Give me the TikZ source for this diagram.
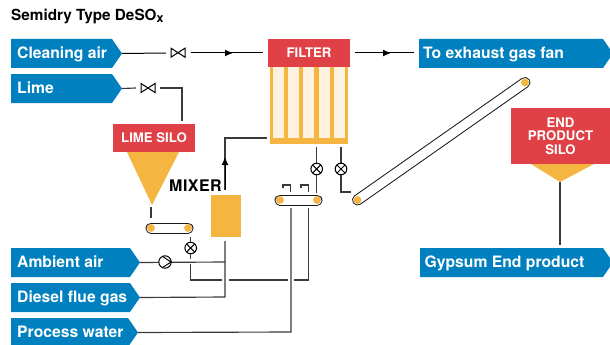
\documentclass[tikz,border=0pt]{standalone}
\usepackage{fontspec}
\setmainfont{TeX Gyre Heros}
\usetikzlibrary{arrows.meta}
\definecolor{tagblue}{HTML}{0080BE}
\definecolor{silored}{HTML}{DF4147}
\definecolor{amber}{HTML}{F4B541}
\definecolor{cream}{HTML}{FEF1DF}
\definecolor{pipe}{HTML}{3A3A3A}
\tikzset{
 x=1pt,y=-1pt,
 tagtext/.style={font=\bfseries\fontsize{15.7}{18}\selectfont,text=white,anchor=base west,inner sep=0pt},
 redbox/.style={fill=silored,text=white,font=\bfseries\fontsize{13.2}{13.5}\selectfont,align=center,inner sep=0pt,draw=none},
 pipeline/.style={draw=pipe,line width=1.15pt},
 thinline/.style={draw=black,line width=1pt},
 flowtip/.style={-{Latex[length=8pt,width=7pt]},draw=black,line width=1pt},
}
\newcommand{\tagshape}[7]{% name x ytop width height textx text
 \fill[tagblue] (#2,#3) -- ({#2+#4-10},#3) -- ({#2+#4},{#3+#5/2}) -- ({#2+#4-10},{#3+#5}) -- (#2,{#3+#5}) -- cycle;
 \coordinate (#1) at ({#2+#4},{#3+#5/2});
 \node[tagtext] (#1t) at ({#2+#6},{#3+19.7}) {#7};
}
\newcommand{\valvebow}[3]{%
 \coordinate (#1) at (#2,#3);
 \draw[black,line width=1pt,fill=white,line join=miter] ({#2-7},{#3-4.5}) -- ({#2+7},{#3+4.5}) -- ({#2+7},{#3-4.5}) -- ({#2-7},{#3+4.5}) -- cycle;
}
\newcommand{\valvecross}[3]{%
 \coordinate (#1) at (#2,#3);
 \draw[black,line width=1pt,fill=white] (#2,#3) circle[radius=5.8];
 \draw[black,line width=1pt] ({#2-4},{#3-4}) -- ({#2+4},{#3+4}) ({#2+4},{#3-4}) -- ({#2-4},{#3+4});
}
\newcommand{\beltshape}[4]{%
 \draw[line width=11pt,draw=black!90,line cap=round] (#1,#2) -- (#3,#4);
 \draw[line width=9pt,draw=white,line cap=round] (#1,#2) -- (#3,#4);
 \fill[amber] (#1,#2) circle[radius=3.9];
 \fill[amber] (#3,#4) circle[radius=3.9];
}
\begin{document}
\begin{tikzpicture}
\useasboundingbox (0,0) rectangle (610,345);
\clip (0,0) rectangle (610,345);
\node[anchor=base west,inner sep=0pt,font=\bfseries\fontsize{15.3}{18}\selectfont] (title) at (11,21) {Semidry Type DeSO\raisebox{-1.2pt}{\fontsize{12.5}{14}\selectfont x}};

\tagshape{ca}{11}{39}{111}{29}{6}{Cleaning air}
\tagshape{li}{11}{74}{111}{29}{6}{Lime}
\tagshape{am}{11}{248}{129}{29}{6}{Ambient air}
\tagshape{df}{11}{283}{129}{29}{6}{Diesel flue gas}
\tagshape{pw}{11}{318}{127}{29}{6}{Process water}
\tagshape{ex}{419}{39}{194}{29}{4}{To exhaust gas fan}
\tagshape{gy}{420}{248}{193}{29}{4.5}{Gypsum End product}

% filter
\fill[amber] (270,67) rectangle (348,144);
\foreach \x in {273,288,303,319,334}{\fill[cream] (\x,67) rectangle ({\x+11},138);}
\node[redbox,minimum width=82pt,minimum height=28pt] (filter) at (309,53) {FILTER};
% lime silo
\fill[amber] (127,152) -- (179,152) -- (152,205) -- cycle;
\node[redbox,minimum width=82pt,minimum height=28pt] (lime) at (154,138) {LIME SILO};
% end silo
\fill[amber] (531,164) -- (594,164) -- (560,182) -- cycle;
\node[redbox,minimum width=99pt,minimum height=56pt] (endsilo) at (560.5,136) {END\\PRODUCT\\SILO};
% mixer
\node[fill=amber,minimum width=30pt,minimum height=42pt,inner sep=0pt] (mixer) at (226,216) {};
\node[anchor=base west,inner sep=0pt,font=\bfseries\fontsize{16}{18}\selectfont\addfontfeature{LetterSpace=3}] (mixlabel) at (169,191) {MIXER};

% cleaning air
\draw[thinline] (ca) -- (166,53);
\draw[thinline] (191,53) -- (263,53);
\draw[flowtip] (191,53) -- (233,53);
\valvebow{v1}{178}{52.7}
% lime
\draw[pipeline] (li) -- (136,88);
\draw[pipeline] (160,88) -- (182,88) -- (182,121);
\valvebow{v2}{148}{88}
% exhaust
\draw[thinline] (355,53) -- (414,53);
\draw[flowtip] (355,53) -- (391,53);
% mixer out
\draw[pipeline] (225,190) -- (225,138) -- (267,138);
\draw[flowtip] (225,190) -- (225,157);
% mixer in
\draw[pipeline] (225,241) -- (225,297) -- (df);
\draw[pipeline] (am) -- (225,262);
\draw[pipeline] (190.7,264) -- (190.7,280) -- (222,280);
\draw[pipeline] (229,280) -- (288,280);
\draw[pipeline] (294,280) -- (308.7,280) -- (308.7,208);
\draw[pipeline] (pw) -- (291,332) -- (291,208);
% silo to belt
\draw[pipeline] (151,207) -- (151,218);
% belts
\beltshape{151}{228}{188}{228}
\beltshape{280}{200}{317}{200}
\beltshape{357.5}{200}{525}{82.5}
% hooks above belt
\draw[pipeline] (283,188) -- (283,185) -- (290.7,185) -- (290.7,192);
\draw[pipeline] (301,188) -- (301,185) -- (308.7,185) -- (308.7,192);
% dosing valves
\draw[pipeline] (190.7,237) -- (190.7,259);
\valvecross{c0}{190.7}{248}
\draw[pipeline] (316.7,147) -- (316.7,193);
\valvecross{c1}{316.7}{169}
\draw[pipeline] (341,147) -- (341,192) -- (350.7,192);
\valvecross{c2}{341}{169}
% pump
\coordinate (pump) at (165,262);
\draw[black,line width=1pt,fill=white] (pump) circle[radius=6.2];
\draw[black,line width=1pt] (162.5,256.4) -- (171,262) -- (162.5,267.6);
% end product
\draw[pipeline] (560,182) -- (560,245);
\end{tikzpicture}
\end{document}
